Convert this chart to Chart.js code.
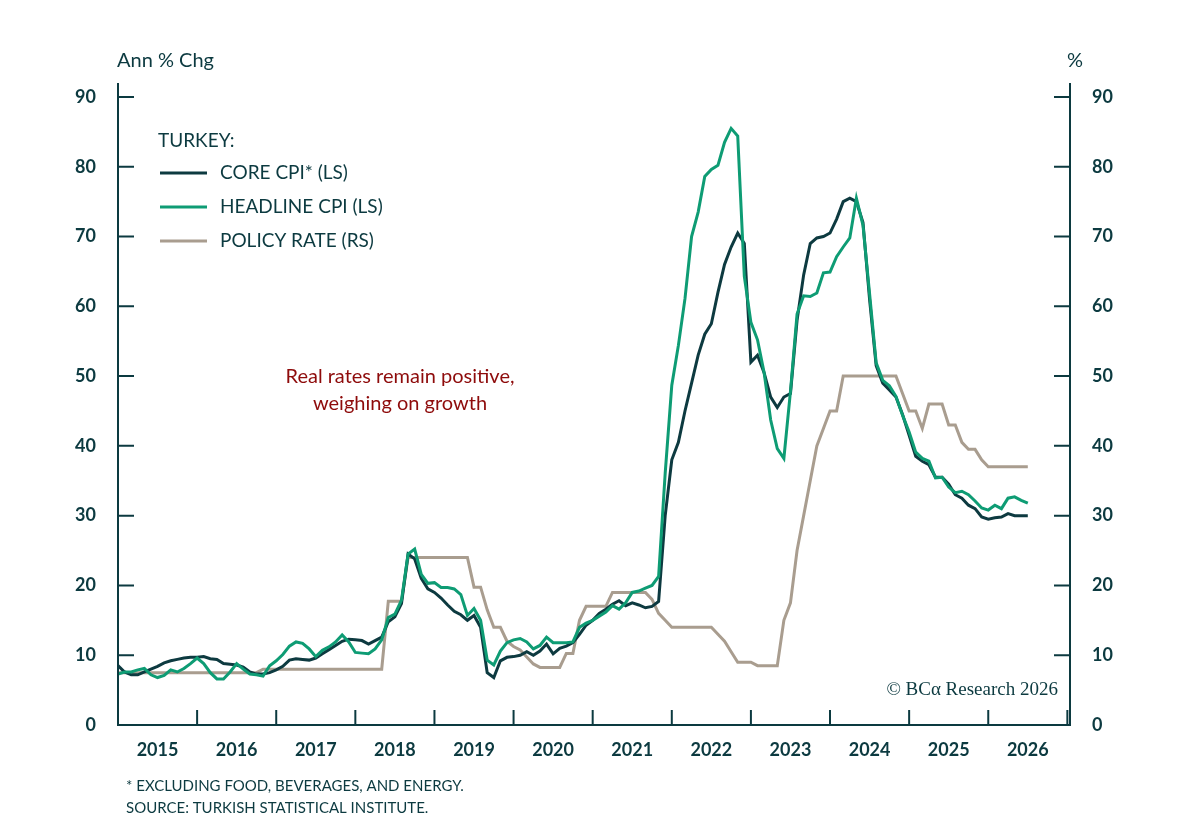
<!DOCTYPE html>
<html>
<head>
<meta charset="utf-8">
<script src="https://cdn.jsdelivr.net/npm/chart.js@4"></script>
<style>
  body { margin: 0; background: #fff; }
  #wrap { width: 1200px; height: 830px; position: relative; }
</style>
</head>
<body>
<div id="wrap"><canvas id="turkeyChart" width="1200" height="830"></canvas></div>
<script>
const INK = "#0c3a40";
const FONT = "Lato, 'Noto Sans', sans-serif";

// monthly, Jan 2015 onwards
const coreCpi = [
  8.5,7.6,7.2,7.2,7.6,8.0,8.4,8.9,9.2,9.4,9.6,9.7,
  9.7,9.8,9.5,9.4,8.8,8.7,8.6,8.3,7.6,7.3,7.3,7.5,
  7.9,8.4,9.3,9.5,9.4,9.3,9.6,10.2,10.8,11.4,12.0,12.3,
  12.2,12.1,11.6,12.1,12.6,14.8,15.5,17.4,24.5,23.8,21.0,19.5,
  19.0,18.2,17.2,16.3,15.8,15.0,15.7,14.0,7.5,6.8,9.2,9.7,
  9.8,10.0,10.5,10.0,10.6,11.6,10.2,11.0,11.3,11.8,13.0,14.3,
  15.0,16.0,16.6,17.3,17.8,17.1,17.5,17.2,16.8,17.0,17.7,30.0,
  38.0,40.5,45.0,49.0,53.0,56.0,57.5,62.0,66.0,68.5,70.5,69.0,
  52.0,53.0,50.5,47.0,45.5,47.0,47.5,58.0,64.5,69.0,69.8,70.0,
  70.5,72.5,75.0,75.5,75.0,72.0,61.0,51.5,49.0,48.0,47.0,44.5,
  41.5,38.5,37.8,37.3,35.5,35.5,34.5,33.0,32.5,31.5,31.0,29.8,
  29.5,29.7,29.8,30.3,30.0,30.0,30.0
];

const headlineCpi = [
  7.3,7.6,7.6,7.9,8.1,7.2,6.8,7.1,7.9,7.6,8.1,8.8,
  9.6,8.8,7.5,6.6,6.6,7.6,8.8,8.0,7.3,7.2,7.0,8.5,
  9.2,10.1,11.3,11.9,11.7,10.9,9.8,10.7,11.2,11.9,12.9,11.9,
  10.4,10.3,10.2,10.9,12.2,15.4,15.9,17.9,24.5,25.2,21.6,20.3,
  20.4,19.7,19.7,19.5,18.7,15.7,16.7,15.0,9.3,8.6,10.6,11.8,
  12.2,12.4,11.9,10.9,11.4,12.6,11.8,11.8,11.8,11.9,14.0,14.6,
  15.0,15.6,16.2,17.1,16.6,17.5,19.0,19.2,19.6,20.0,21.3,36.1,
  48.7,54.4,61.1,70.0,73.5,78.6,79.6,80.2,83.5,85.5,84.4,64.3,
  57.7,55.2,50.5,43.7,39.6,38.2,47.8,58.9,61.5,61.4,61.9,64.8,
  64.9,67.1,68.5,69.8,75.5,71.6,61.8,51.9,49.4,48.6,47.1,44.4,
  42.0,39.1,38.2,37.8,35.4,35.5,34.1,33.3,33.5,33.0,32.1,31.1,
  30.8,31.5,31.0,32.5,32.7,32.2,31.8
];

const policyRate = [
  7.5,7.5,7.5,7.5,7.5,7.5,7.5,7.5,7.5,7.5,7.5,7.5,
  7.5,7.5,7.5,7.5,7.5,7.5,7.5,7.5,7.5,7.5,8.0,8.0,
  8.0,8.0,8.0,8.0,8.0,8.0,8.0,8.0,8.0,8.0,8.0,8.0,
  8.0,8.0,8.0,8.0,8.0,17.75,17.75,17.75,24.0,24.0,24.0,24.0,
  24.0,24.0,24.0,24.0,24.0,24.0,19.75,19.75,16.5,14.0,14.0,12.0,
  11.25,10.75,9.75,8.75,8.25,8.25,8.25,8.25,10.25,10.25,15.0,17.0,
  17.0,17.0,17.0,19.0,19.0,19.0,19.0,19.0,19.0,18.0,16.0,15.0,
  14.0,14.0,14.0,14.0,14.0,14.0,14.0,13.0,12.0,10.5,9.0,9.0,
  9.0,8.5,8.5,8.5,8.5,15.0,17.5,25.0,30.0,35.0,40.0,42.5,
  45.0,45.0,50.0,50.0,50.0,50.0,50.0,50.0,50.0,50.0,50.0,47.5,
  45.0,45.0,42.5,46.0,46.0,46.0,43.0,43.0,40.5,39.5,39.5,38.0,
  37.0,37.0,37.0,37.0,37.0,37.0,37.0
];

function toPoints(arr) {
  return arr.map((v, i) => ({ x: i, y: v }));
}

const frame = {
  id: "frame",
  afterDraw(chart) {
    const c = chart.ctx;
    const xs = chart.scales.x, ys = chart.scales.y;
    const L = xs.left, R = xs.right, B = ys.bottom, T = ys.top;
    c.save();
    c.strokeStyle = INK;
    c.lineWidth = 2;
    c.beginPath();
    c.moveTo(L, T); c.lineTo(L, B); c.lineTo(R, B); c.lineTo(R, T);
    c.stroke();
    // inward ticks on y axes
    for (let v = 0; v <= 90; v += 10) {
      const py = ys.getPixelForValue(v);
      c.beginPath();
      c.moveTo(L, py); c.lineTo(L + 16, py);
      c.moveTo(R, py); c.lineTo(R - 16, py);
      c.stroke();
    }
    // year ticks and labels
    c.fillStyle = INK;
    c.font = "bold 18px " + FONT;
    c.textAlign = "center";
    c.textBaseline = "middle";
    for (let k = 0; k <= 12; k++) {
      const px = xs.getPixelForValue(k * 12);
      c.beginPath();
      c.moveTo(px, B); c.lineTo(px, B - 15);
      c.stroke();
      if (k < 12) c.fillText(String(2015 + k), xs.getPixelForValue(k * 12 + 6), 750);
    }
    // axis titles
    c.font = "20px " + FONT;
    c.textAlign = "left";
    c.fillText("Ann % Chg", 117, 61);
    c.textAlign = "center";
    c.fillText("%", 1075, 61);
    // legend
    c.font = "19px " + FONT;
    c.textAlign = "left";
    c.fillText("TURKEY:", 158, 141);
    const items = [
      ["CORE CPI* (LS)", "#0d3a40"],
      ["HEADLINE CPI (LS)", "#0e9c74"],
      ["POLICY RATE (RS)", "#a99d8f"]
    ];
    items.forEach((it, i) => {
      const yy = 173 + i * 34;
      c.strokeStyle = it[1];
      c.lineWidth = 3;
      c.beginPath(); c.moveTo(160, yy); c.lineTo(207, yy); c.stroke();
      c.fillStyle = INK;
      c.fillText(it[0], 220, yy);
    });
    // annotation
    c.fillStyle = "#8e0b0b";
    c.font = "20px " + FONT;
    c.textAlign = "center";
    c.fillText("Real rates remain positive,", 400, 377);
    c.fillText("weighing on growth", 400, 404);
    // copyright
    c.fillStyle = INK;
    c.font = "19px 'Liberation Serif', 'DejaVu Serif', serif";
    c.textAlign = "right";
    c.fillText("© BCα Research 2026", 1058, 690);
    // footnotes
    c.font = "15px " + FONT;
    c.textAlign = "left";
    c.fillText("* EXCLUDING FOOD, BEVERAGES, AND ENERGY.", 126, 786);
    c.fillText("SOURCE: TURKISH STATISTICAL INSTITUTE.", 126, 808);
    c.restore();
  }
};

const setTicks = (scale) => {
  scale.ticks = [0, 10, 20, 30, 40, 50, 60, 70, 80, 90].map(v => ({ value: v }));
};

new Chart(document.getElementById("turkeyChart").getContext("2d"), {
  type: "line",
  data: {
    datasets: [
      { label: "Policy rate (RS)", data: toPoints(policyRate), yAxisID: "y1",
        borderColor: "#a99d8f", borderWidth: 3, pointRadius: 0, tension: 0, order: 3 },
      { label: "Core CPI (LS)", data: toPoints(coreCpi), yAxisID: "y",
        borderColor: "#0d3a40", borderWidth: 3, pointRadius: 0, tension: 0, order: 2 },
      { label: "Headline CPI (LS)", data: toPoints(headlineCpi), yAxisID: "y",
        borderColor: "#0e9c74", borderWidth: 3, pointRadius: 0, tension: 0, order: 1 }
    ]
  },
  options: {
    responsive: false,
    animation: false,
    layout: { padding: { top: 83, left: 0, right: 0, bottom: 0 } },
    plugins: { legend: { display: false }, tooltip: { enabled: false } },
    scales: {
      x: {
        type: "linear", min: 0, max: 144.4,
        grid: { display: false }, border: { display: false },
        ticks: { display: false },
        afterFit(s) { s.height = 105; }
      },
      y: {
        position: "left", min: 0, max: 92,
        grid: { display: false }, border: { display: false },
        ticks: { padding: 14, color: INK, font: { family: FONT, size: 18, weight: "bold" } },
        afterBuildTicks: setTicks,
        afterFit(s) { s.width = 118; }
      },
      y1: {
        position: "right", min: 0, max: 92,
        grid: { display: false }, border: { display: false },
        ticks: { padding: 14, color: INK, font: { family: FONT, size: 18, weight: "bold" } },
        afterBuildTicks: setTicks,
        afterFit(s) { s.width = 130; }
      }
    }
  },
  plugins: [frame]
});
</script>
</body>
</html>
